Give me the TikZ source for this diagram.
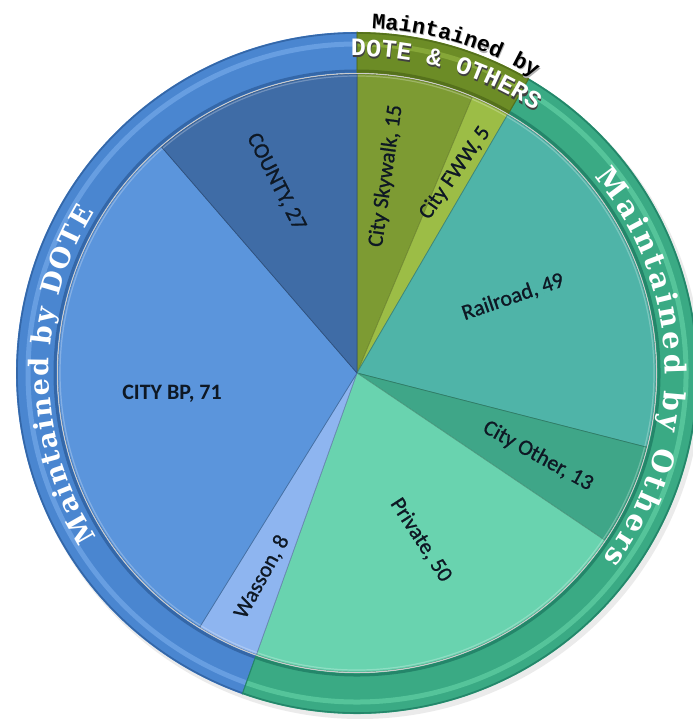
\documentclass[tikz,border=0pt]{standalone}
\usepackage{fontspec}
\setmainfont{Carlito}
\newfontfamily\labfont{Carlito}[FakeBold=0.9]
\newfontfamily\slabfont{DejaVu Serif}
\newfontfamily\typefont{Liberation Mono}
\usetikzlibrary{decorations.text}
\definecolor{countyC}{HTML}{3F6CA6}
\definecolor{citybpC}{HTML}{5B95DC}
\definecolor{wassonC}{HTML}{8EB5F0}
\definecolor{skywalkC}{HTML}{7D9B33}
\definecolor{fwwC}{HTML}{9CBD46}
\definecolor{railC}{HTML}{4FB4A8}
\definecolor{otherC}{HTML}{3FA688}
\definecolor{privateC}{HTML}{69D3AF}
\definecolor{blueR}{HTML}{4A86D0}
\definecolor{blueRd}{HTML}{3467A8}
\definecolor{blueRl}{HTML}{6FA4E6}
\definecolor{greenR}{HTML}{3AAA84}
\definecolor{greenRd}{HTML}{24866A}
\definecolor{greenRl}{HTML}{5CCBA0}
\definecolor{oliveR}{HTML}{6C8C26}
\definecolor{oliveRd}{HTML}{55711C}
\definecolor{oliveRl}{HTML}{8DAE3D}
\definecolor{labelC}{HTML}{0E1824}
\newcommand\ringseg[5]{%
  \fill[#1] (#4:341pt) arc[start angle=#4, end angle=#5, radius=341pt] -- (#5:300pt) arc[start angle=#5, end angle=#4, radius=300pt] -- cycle;
  \draw[#3, line width=5pt, opacity=0.8] (#4:329pt) arc[start angle=#4, end angle=#5, radius=329pt];
  \draw[#2, line width=1.6pt] (#4:340pt) arc[start angle=#4, end angle=#5, radius=340pt];
  \draw[#2, line width=3pt] (#4:302pt) arc[start angle=#4, end angle=#5, radius=302pt];
  \draw[#2, line width=1pt] (#4:300pt) -- (#4:341pt) (#5:300pt) -- (#5:341pt);
}
\newcommand\pieslice[3]{%
  \filldraw[fill=#1, draw=#1!75!black, line width=0.7pt, line join=round] (0,0) -- (#2:299pt) arc[start angle=#2, end angle=#3, radius=299pt] -- cycle;
  \draw[white, opacity=0.25, line width=1.2pt] (#2:297pt) arc[start angle=#2, end angle=#3, radius=297pt];}
\newcommand\fmtL{\slabfont\bfseries\fontsize{27}{27}\selectfont\color{white}\kern1.7pt}
\newcommand\fmtR{\slabfont\bfseries\fontsize{29}{29}\selectfont\color{white}\kern3.1pt}
\newcommand\fmtD{\typefont\bfseries\fontsize{25}{25}\selectfont\color{white}}
\newcommand\fmtDs{\typefont\bfseries\fontsize{25}{25}\selectfont\color{black!75}}
\newcommand\fmtM{\typefont\bfseries\fontsize{22}{22}\selectfont\color{black}}
\newcommand\fmtMs{\typefont\bfseries\fontsize{22}{22}\selectfont\color{black!30}}
\begin{document}
\begin{tikzpicture}[x=1pt,y=1pt,
  lab/.style={font=\labfont\fontsize{22}{24}\selectfont, text=labelC, inner sep=0pt}]
\useasboundingbox (0,0) rectangle (693,723);
\fill[white] (0,0) rectangle (693,723);
\begin{scope}[shift={(357,350)}]
\coordinate (O) at (0,0);
\fill[black, opacity=0.08] (3pt,-4pt) circle[radius=342pt];
\ringseg{blueR}{blueRd}{blueRl}{90}{250.34}
\ringseg{greenR}{greenRd}{greenRl}{59.75}{-109.66}
\ringseg{oliveR}{oliveRd}{oliveRl}{90}{59.75}
\pieslice{skywalkC}{90}{67.31}
\pieslice{fwwC}{67.31}{59.75}
\pieslice{railC}{59.75}{-14.37}
\pieslice{otherC}{-14.37}{-34.03}
\pieslice{privateC}{-34.03}{-109.66}
\pieslice{wassonC}{-109.66}{-121.76}
\pieslice{citybpC}{-121.76}{-229.15}
\pieslice{countyC}{130.85}{90}
\draw[gray!40!white, line width=0.8pt] (O) circle[radius=299.5pt];
% ring texts
\path[decorate, decoration={text along path, text align=center, text={|\fmtL|Maintained by DOTE}}]
  (220.5:308pt) arc[start angle=220.5, end angle=140.5, radius=308pt];
\path[decorate, decoration={text along path, text align=center, text={|\fmtR|Maintained by Others}}]
  (51.5:308pt) arc[start angle=51.5, end angle=-48.5, radius=308pt];
\path[decorate, decoration={text along path, text align=center, text={|\fmtDs|DOTE {\&} OTHERS}}]
  (113.3:315pt) arc[start angle=113.3, end angle=33.3, radius=315pt];
\path[decorate, decoration={text along path, text align=center, text={|\fmtD|DOTE {\&} OTHERS}}]
  (113.5:317pt) arc[start angle=113.5, end angle=33.5, radius=317pt];
\path[decorate, decoration={text along path, text align=center, text={|\fmtMs|Maintained by}}]
  (113.1:344pt) arc[start angle=113.1, end angle=33.1, radius=344pt];
\path[decorate, decoration={text along path, text align=center, text={|\fmtM|Maintained by}}]
  (113.3:345pt) arc[start angle=113.3, end angle=33.3, radius=345pt];
\end{scope}
\node[lab, font=\bfseries\fontsize{22}{24}\selectfont] (citybp) at (172,329) {CITY BP, 71};
\node[lab, rotate=-63] (county) at (276,541) {COUNTY, 27};
\node[lab, rotate=82] (skywalk) at (386,547) {City Skywalk, 15};
\node[lab, rotate=55] (fww) at (455,550) {City FWW, 5};
\node[lab, rotate=19] (rail) at (513,426) {Railroad, 49};
\node[lab, rotate=-29] (other) at (538,267) {City Other, 13};
\node[lab, rotate=-57] (private) at (421,183) {Private, 50};
\node[lab, rotate=61] (wasson) at (262,146) {Wasson, 8};
\end{tikzpicture}
\end{document}
